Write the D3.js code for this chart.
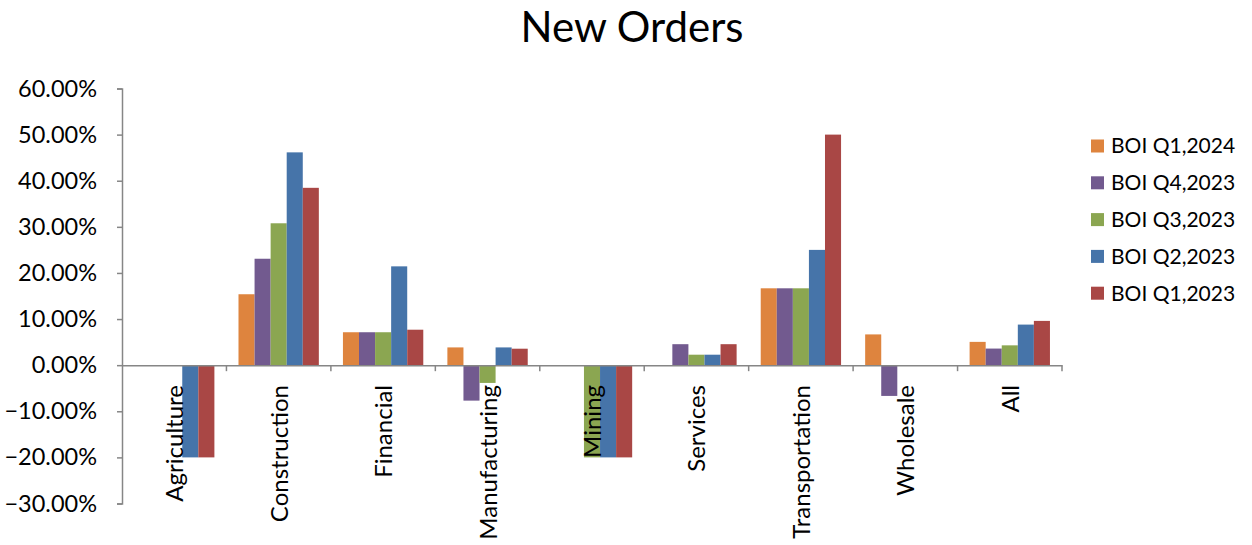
<!DOCTYPE html>
<html>
<head>
<meta charset="utf-8">
<script src="https://cdn.jsdelivr.net/npm/d3@7"></script>
<style>
  html, body { margin: 0; padding: 0; background: #ffffff; }
  svg { display: block; font-family: Lato, "Open Sans", sans-serif; }
</style>
</head>
<body>
<svg id="chart" width="1252" height="545"></svg>
<script>
// Sectors along the x axis
const categories = ["Agriculture", "Construction", "Financial", "Manufacturing", "Mining",
                    "Services", "Transportation", "Wholesale", "All"];

// Survey rounds, one bar per round in each sector
const seriesNames = ["BOI Q1,2024", "BOI Q4,2023", "BOI Q3,2023", "BOI Q2,2023", "BOI Q1,2023"];

// Net balance of new orders (fractions), one array per survey round
const q1_2024 = [0, 0.1538, 0.0714, 0.0385, 0, 0, 0.1667, 0.0667, 0.0505];
const q4_2023 = [0, 0.2308, 0.0714, -0.0769, 0, 0.0455, 0.1667, -0.0667, 0.0360];
const q3_2023 = [0, 0.3077, 0.0714, -0.0385, -0.20, 0.0227, 0.1667, 0, 0.0430];
const q2_2023 = [-0.20, 0.4615, 0.2143, 0.0385, -0.20, 0.0227, 0.25, 0, 0.0880];
const q1_2023 = [-0.20, 0.3846, 0.0769, 0.0357, -0.20, 0.0455, 0.50, 0, 0.0960];

const seriesValues = [q1_2024, q4_2023, q3_2023, q2_2023, q1_2023];
const seriesColors = ["#DE843E", "#725A8F", "#8BA651", "#4674A9", "#A94745"];

// Y axis tick values
const yTicks = [0.6, 0.5, 0.4, 0.3, 0.2, 0.1, 0, -0.1, -0.2, -0.3];

const svg = d3.select("#chart");
const plot = { left: 122, right: 1062, top: 88.5, bottom: 503.5 };
const axisColor = "#868686";

const x = d3.scaleBand().domain(categories).range([plot.left, plot.right]).paddingInner(0).paddingOuter(0);
// Clustered columns with a 150% gap between groups
const groupPad = 1.5 / (seriesNames.length + 1.5);
const xInner = d3.scaleBand().domain(seriesNames)
  .range([x.bandwidth() * groupPad / 2, x.bandwidth() * (1 - groupPad / 2)]);
const y = d3.scaleLinear().domain([-0.3, 0.6]).range([plot.bottom, plot.top]);

// Title
svg.append("text")
  .attr("x", 632).attr("y", 42)
  .attr("text-anchor", "middle")
  .attr("font-size", 42)
  .attr("fill", "#000")
  .text("New Orders");

// Bars
const groups = svg.append("g").selectAll("g")
  .data(seriesNames)
  .join("g")
  .attr("fill", (d, i) => seriesColors[i]);

groups.selectAll("rect")
  .data((name, si) => categories.map((c, ci) => ({ c, name, v: seriesValues[si][ci] })))
  .join("rect")
  .attr("x", d => x(d.c) + xInner(d.name))
  .attr("width", xInner.bandwidth())
  .attr("y", d => y(Math.max(0, d.v)))
  .attr("height", d => Math.abs(y(d.v) - y(0)));

// Y axis
const yAxis = svg.append("g")
  .attr("transform", `translate(${plot.left},0)`)
  .call(d3.axisLeft(y).tickValues(yTicks).tickFormat(d3.format(".2%")).tickSize(5).tickPadding(20));
yAxis.select(".domain").attr("stroke", axisColor).attr("stroke-width", 1.5);
yAxis.selectAll(".tick line").attr("stroke", axisColor).attr("stroke-width", 1.5);
yAxis.selectAll(".tick text")
  .attr("font-size", 23.5)
  .attr("font-family", "Lato, sans-serif")
  .attr("fill", "#000");

// Category axis along the zero line
const xAxis = svg.append("g")
  .attr("transform", `translate(0,${y(0)})`)
  .call(d3.axisBottom(x).tickSize(0).tickFormat(""));
xAxis.select(".domain").attr("stroke", axisColor).attr("stroke-width", 1.5);
xAxis.selectAll(".tick").remove();

// Tick marks at the category boundaries
const boundaries = categories.map(c => x(c)).concat([plot.right]);
svg.append("g").selectAll("line")
  .data(boundaries.slice(1))
  .join("line")
  .attr("x1", d => d).attr("x2", d => d)
  .attr("y1", y(0)).attr("y2", y(0) + 6)
  .attr("stroke", axisColor).attr("stroke-width", 1.5);

// Category labels, rotated to read upward
svg.append("g").selectAll("text")
  .data(categories)
  .join("text")
  .attr("transform", d => `translate(${x(d) + x.bandwidth() / 2 + 9},385) rotate(-90)`)
  .attr("text-anchor", "end")
  .attr("font-size", 24)
  .attr("fill", "#000")
  .text(d => d);

// Legend
const legend = svg.append("g").selectAll("g")
  .data(seriesNames)
  .join("g")
  .attr("transform", (d, i) => `translate(1091,${146 + i * 36.8})`);
legend.append("rect")
  .attr("x", 0).attr("y", -6.5).attr("width", 13).attr("height", 13)
  .attr("fill", (d, i) => seriesColors[i]);
legend.append("text")
  .attr("x", 20).attr("y", 0).attr("dy", "0.35em")
  .attr("font-size", 21)
  .attr("fill", "#000")
  .text(d => d);
</script>
</body>
</html>
